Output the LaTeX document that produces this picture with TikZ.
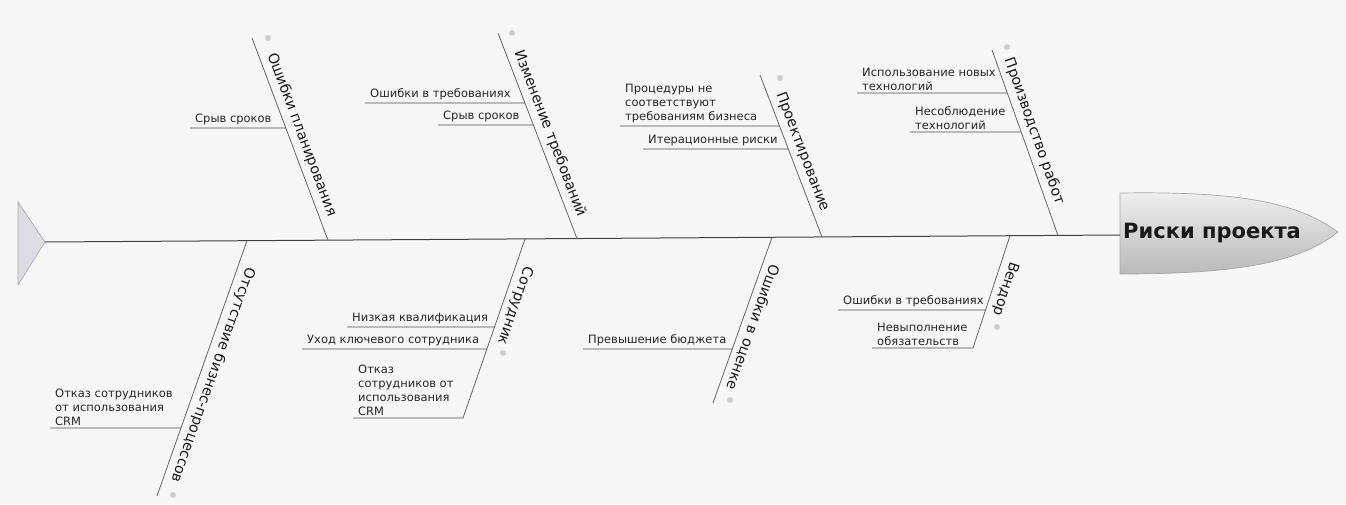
\documentclass[tikz,border=0pt]{standalone}
\usepackage{fontspec}
\setmainfont{DejaVu Sans}
\begin{document}
\begin{tikzpicture}[x=1pt,y=-1pt,
  bone/.style={draw=black!60, line width=0.8pt},
  sub/.style={inner xsep=5pt, inner ysep=2.5pt, anchor=south west, align=left, font=\fontsize{11.5}{14}\selectfont, text=black!85},
  subline/.style={draw=black!70, line width=0.9pt},
  cat/.style={font=\fontsize{14.3}{17}\selectfont, sloped, above=4pt, text=black!90, inner sep=1pt},
  catlow/.style={cat, allow upside down},
  dotmark/.style={circle, fill=gray!40, draw=gray!25, inner sep=0pt, minimum size=6pt},
]
\useasboundingbox (0,0) rectangle (1346,504);
\fill[gray!6] (0,0) rectangle (1346,504);

% tail
\coordinate (tA) at (18,202);
\coordinate (tB) at (18,285);
\coordinate (tailtip) at (45,242);
\filldraw[fill=blue!10!gray!25, draw=gray!70, line width=0.6pt] (tA) -- (tailtip) -- (tB) -- cycle;

% head
\coordinate (headleft) at (1120,235);
\shade[top color=gray!12, bottom color=gray!55, draw=gray!70, line width=0.7pt]
  (1120,193) .. controls (1250,191) and (1300,205) .. (1338,232)
  .. controls (1300,262) and (1240,274) .. (1120,274) -- cycle;
\node[font=\bfseries\fontsize{21}{24}\selectfont, text=black!90, anchor=west, inner sep=1pt] (head) at (1122,233) {Риски проекта};

% spine
\draw[draw=black!75, line width=1pt] (tailtip) -- (headleft);

% bone coordinates
\coordinate (b1t) at (252,38);   \coordinate (b1s) at (328,240.2);
\coordinate (b2t) at (498,33);   \coordinate (b2s) at (577,238.5);
\coordinate (b3t) at (760,75);   \coordinate (b3s) at (822,237);
\coordinate (b4t) at (992,50);   \coordinate (b4s) at (1058,235.5);
\coordinate (b5s) at (247,240.7); \coordinate (b5b) at (157,496);
\coordinate (b6s) at (525,239);  \coordinate (b6b) at (463,418);
\coordinate (b7s) at (772,237.3); \coordinate (b7b) at (713,403);
\coordinate (b8s) at (1010,235.7); \coordinate (b8b) at (973,348);

% bones with labels
\draw[bone] (b1t) -- (b1s) node[cat, pos=0.50] (c1) {Ошибки планирования};
\draw[bone] (b2t) -- (b2s) node[cat, pos=0.51] (c2) {Изменение требований};
\draw[bone] (b3t) -- (b3s) node[cat, pos=0.50] (c3) {Проектирование};
\draw[bone] (b4t) -- (b4s) node[cat, pos=0.46] (c4) {Производство работ};
\draw[bone] (b5s) -- (b5b) node[catlow, pos=0.51] (c5) {Отсутствие бизнес-процессов};
\draw[bone] (b6s) -- (b6b) node[catlow, pos=0.35] (c6) {Сотрудник};
\draw[bone] (b7s) -- (b7b) node[catlow, pos=0.52] (c7) {Ошибки в оценке};
\draw[bone] (b8s) -- (b8b) node[catlow, pos=0.44] (c8) {Вендор};

% dots
\node[dotmark] (d1) at (268,38) {};
\node[dotmark] (d2) at (512,33) {};
\node[dotmark] (d3) at (780,78) {};
\node[dotmark] (d4) at (1007,47) {};
\node[dotmark] (d5) at (173,495) {};
\node[dotmark] (d6) at (503,353) {};
\node[dotmark] (d7) at (730,400) {};
\node[dotmark] (d8) at (997,327) {};

% sub causes
\node[sub] (s1) at (190,128) {Срыв сроков};
\node[sub] (s2) at (365,103) {Ошибки в требованиях};
\node[sub] (s3) at (438,125) {Срыв сроков};
\node[sub] (s4) at (620,126) {Процедуры не\\соответствуют\\требованиям бизнеса};
\node[sub] (s5) at (643,149) {Итерационные риски};
\node[sub] (s6) at (857,93) {Использование новых\\технологий};
\node[sub] (s7) at (910,132) {Несоблюдение\\технологий};
\node[sub] (s8) at (50,428) {Отказ сотрудников\\от использования\\CRM};
\node[sub] (s9) at (347,327) {Низкая квалификация};
\node[sub] (s10) at (302,349) {Уход ключевого сотрудника};
\node[sub] (s11) at (353,418) {Отказ\\сотрудников от\\использования\\CRM};
\node[sub] (s12) at (583,349) {Превышение бюджета};
\node[sub] (s13) at (838,310) {Ошибки в требованиях};
\node[sub] (s14) at (872,348) {Невыполнение\\обязательств};

\draw[subline] (s1.south west) -- (intersection of s1.south west--s1.south east and b1t--b1s);
\draw[subline] (s2.south west) -- (intersection of s2.south west--s2.south east and b2t--b2s);
\draw[subline] (s3.south west) -- (intersection of s3.south west--s3.south east and b2t--b2s);
\draw[subline] (s4.south west) -- (intersection of s4.south west--s4.south east and b3t--b3s);
\draw[subline] (s5.south west) -- (intersection of s5.south west--s5.south east and b3t--b3s);
\draw[subline] (s6.south west) -- (intersection of s6.south west--s6.south east and b4t--b4s);
\draw[subline] (s7.south west) -- (intersection of s7.south west--s7.south east and b4t--b4s);
\draw[subline] (s8.south west) -- (intersection of s8.south west--s8.south east and b5s--b5b);
\draw[subline] (s9.south west) -- (intersection of s9.south west--s9.south east and b6s--b6b);
\draw[subline] (s10.south west) -- (intersection of s10.south west--s10.south east and b6s--b6b);
\draw[subline] (s11.south west) -- (intersection of s11.south west--s11.south east and b6s--b6b);
\draw[subline] (s12.south west) -- (intersection of s12.south west--s12.south east and b7s--b7b);
\draw[subline] (s13.south west) -- (intersection of s13.south west--s13.south east and b8s--b8b);
\draw[subline] (s14.south west) -- (intersection of s14.south west--s14.south east and b8s--b8b);
\end{tikzpicture}
\end{document}
